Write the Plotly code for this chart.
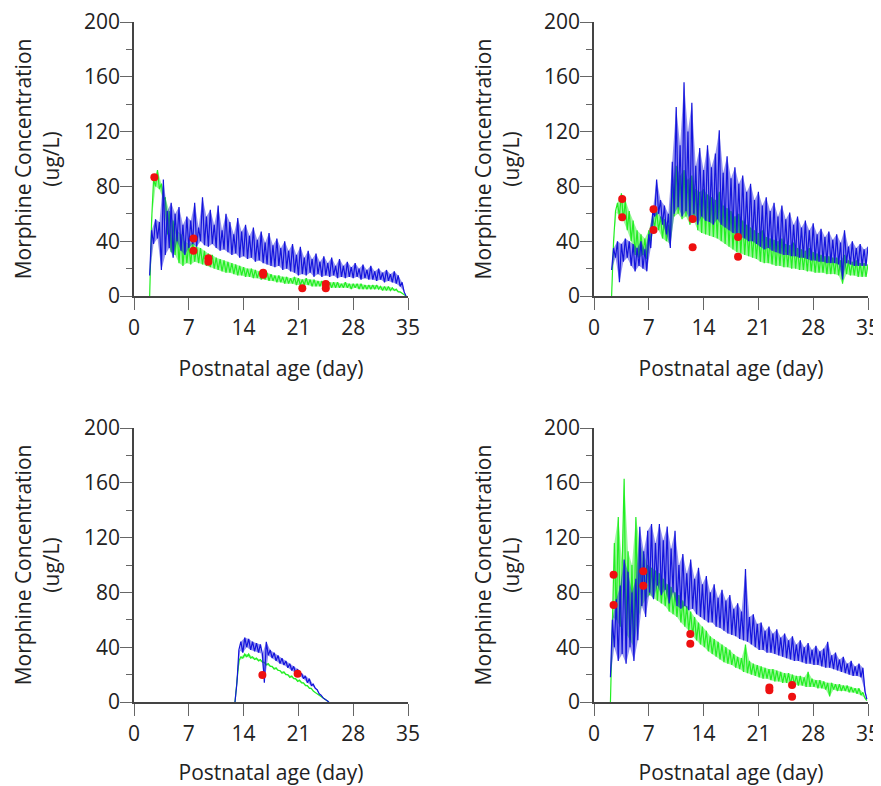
import plotly.graph_objects as go

STEP = 0.25  # sampling interval (day) of the simulated profiles

# ---------------- Panel 1 (top-left) ----------------
P1_BLUE_START = 2.0
P1_BLUE = [15, 48, 38, 56, 42, 54, 19, 85, 30, 62, 35, 68, 28, 60, 40, 65, 33, 52, 30, 58,
           35, 55, 38, 68, 36, 50, 40, 72, 37, 58, 36, 63, 38, 52, 35, 66, 33, 48, 34, 60,
           32, 54, 30, 45, 31, 57, 28, 47, 29, 52, 27, 44, 28, 50, 25, 41, 26, 47, 24, 39,
           23, 46, 22, 37, 21, 42, 22, 35, 19, 40, 20, 33, 18, 38, 17, 30, 15, 36, 16, 28,
           15, 33, 17, 27, 14, 31, 16, 25, 14, 29, 15, 24, 14, 28, 15, 22, 13, 27, 14, 22,
           13, 25, 14, 21, 13, 24, 14, 20, 12, 23, 13, 19, 12, 22, 12, 18, 11, 20, 12, 17,
           10, 19, 11, 16, 10, 18, 9, 15, 7, 10, 3, 0]
P1_GREEN_START = 2.0
P1_GREEN = [0, 55, 85, 80, 92, 78, 82, 70, 72, 45, 62, 32, 55, 30, 48, 24, 45, 22, 40, 24,
            38, 23, 40, 25, 36, 24, 35, 23, 33, 22, 31, 21, 30, 20, 28, 19, 27, 18, 26, 17,
            25, 17, 24, 16, 23, 15, 22, 15, 21, 14, 20, 14, 20, 13, 19, 13, 18, 12, 17, 12,
            17, 11, 16, 11, 15, 10, 15, 10, 14, 9, 14, 9, 13, 9, 14, 8, 13, 8, 12, 8,
            13, 8, 12, 7, 12, 7, 11, 7, 11, 7, 11, 6, 10, 6, 10, 6, 10, 6, 9, 6,
            10, 6, 9, 5, 9, 6, 9, 5, 9, 5, 8, 5, 8, 5, 8, 5, 8, 5, 7, 4,
            7, 4, 7, 4, 6, 4, 5, 3, 3, 2, 1, 0]
P1_OBS_DAY = [2.6, 7.6, 7.6, 9.5, 9.5, 16.5, 16.5, 21.5, 24.5, 24.5]
P1_OBS_CONC = [86.6, 42.0, 33.0, 27.5, 25.0, 17.0, 15.5, 5.6, 8.8, 5.6]

# ---------------- Panel 2 (top-right) ----------------
P2_BLUE_START = 2.25
P2_BLUE = [19, 35, 28, 40, 10, 38, 25, 42, 28, 40, 22, 38, 18, 35, 22, 40, 20, 34, 18, 45,
           35, 62, 58, 85, 60, 70, 52, 66, 45, 60, 35, 98, 60, 138, 65, 110, 58, 156, 62, 120,
           55, 141, 60, 95, 52, 108, 58, 92, 55, 110, 54, 94, 52, 104, 56, 121, 52, 90, 50, 102,
           48, 86, 46, 94, 45, 82, 43, 88, 42, 76, 40, 82, 40, 70, 38, 76, 36, 66, 34, 72,
           35, 62, 33, 68, 32, 58, 31, 66, 30, 56, 30, 61, 29, 52, 29, 58, 28, 50, 28, 55,
           27, 48, 26, 53, 26, 45, 25, 49, 25, 43, 24, 47, 24, 41, 24, 45, 23, 39, 12, 48,
           24, 36, 23, 40, 22, 35, 22, 38, 22, 34, 22, 36]
P2_GREEN_START = 2.25
P2_GREEN = [0, 40, 62, 68, 58, 75, 55, 70, 48, 62, 40, 55, 30, 48, 28, 45, 30, 42, 27, 48,
            40, 58, 50, 62, 48, 58, 42, 56, 40, 52, 38, 82, 58, 95, 60, 88, 56, 92, 58, 85,
            52, 88, 55, 78, 48, 76, 46, 78, 45, 74, 44, 72, 43, 70, 42, 76, 40, 66, 38, 64,
            36, 62, 34, 58, 32, 60, 31, 55, 30, 52, 29, 50, 28, 48, 27, 46, 25, 48, 24, 43,
            24, 42, 23, 41, 22, 40, 22, 42, 21, 38, 21, 37, 20, 39, 20, 35, 19, 34, 19, 33,
            18, 35, 18, 32, 17, 31, 17, 30, 17, 29, 16, 29, 16, 28, 16, 28, 15, 26, 9, 30,
            16, 26, 15, 25, 15, 26, 14, 24, 14, 24, 14, 23]
P2_OBS_DAY = [3.6, 3.6, 7.6, 7.6, 12.6, 12.6, 18.4, 18.4]
P2_OBS_CONC = [70.8, 57.4, 63.3, 48.2, 56.2, 35.5, 43.0, 28.7]

# ---------------- Panel 3 (bottom-left) ----------------
P3_BLUE_START = 12.9
P3_BLUE = [0, 14, 38, 44, 36, 47, 40, 46, 38, 44, 37, 43, 36, 42, 35, 14, 44, 34, 38, 32,
           36, 30, 34, 28, 32, 27, 30, 25, 28, 23, 26, 21, 24, 19, 21, 17, 19, 14, 17, 12,
           13, 10, 9, 6, 5, 3, 2, 1, 0]
P3_GREEN_START = 12.9
P3_GREEN = [0, 18, 30, 33, 32, 35, 33, 35, 32, 33, 31, 32, 30, 31, 29, 29, 27, 28, 26, 26,
            24, 25, 23, 23, 21, 22, 20, 20, 18, 19, 17, 17, 15, 16, 14, 14, 12, 12, 10, 10,
            8, 7, 6, 5, 4, 3, 2, 1, 0]
P3_OBS_DAY = [16.4, 20.9]
P3_OBS_CONC = [19.7, 20.7]

# ---------------- Panel 4 (bottom-right) ----------------
P4_BLUE_START = 2.1
P4_BLUE = [18, 60, 40, 75, 30, 85, 35, 104, 28, 95, 40, 80, 30, 90, 45, 128, 70, 110, 62, 125,
           80, 130, 75, 116, 85, 130, 78, 118, 82, 128, 72, 112, 80, 125, 70, 100, 68, 108, 70, 94,
           67, 104, 68, 90, 64, 98, 62, 86, 60, 92, 58, 80, 58, 86, 55, 76, 54, 82, 52, 74,
           50, 78, 49, 68, 48, 72, 46, 66, 45, 97, 44, 62, 42, 64, 40, 57, 38, 58, 38, 52,
           36, 55, 36, 50, 35, 53, 34, 47, 33, 50, 32, 45, 31, 48, 30, 42, 30, 45, 29, 40,
           28, 43, 28, 38, 27, 41, 27, 37, 26, 39, 25, 44, 25, 34, 24, 36, 23, 31, 22, 33,
           21, 28, 20, 30, 19, 26, 19, 28, 18, 25, 8, 2]
P4_GREEN_START = 2.1
P4_GREEN = [0, 62, 116, 60, 135, 55, 100, 163, 50, 110, 45, 100, 40, 135, 60, 116, 70, 108, 75, 100,
            78, 98, 76, 96, 74, 94, 72, 90, 70, 86, 66, 84, 64, 80, 62, 78, 58, 74, 55, 70,
            52, 66, 48, 62, 45, 58, 42, 55, 40, 52, 37, 48, 35, 46, 33, 44, 31, 42, 29, 40,
            28, 38, 27, 35, 25, 33, 24, 32, 22, 42, 21, 30, 20, 28, 19, 27, 18, 26, 17, 25,
            17, 24, 16, 24, 15, 23, 15, 22, 14, 21, 14, 21, 13, 20, 13, 19, 12, 19, 12, 18,
            11, 22, 11, 17, 11, 16, 10, 16, 10, 15, 9, 14, 4, 14, 9, 13, 8, 13, 8, 12,
            8, 12, 7, 11, 7, 10, 6, 10, 5, 7, 3, 1]
P4_OBS_DAY = [2.5, 2.5, 6.3, 6.3, 12.3, 12.3, 22.4, 22.4, 25.3, 25.3]
P4_OBS_CONC = [92.9, 70.8, 95.4, 84.9, 49.6, 42.6, 10.5, 8.6, 12.4, 3.9]

X_TICKS = [0, 7, 14, 21, 28, 35]
Y_TICKS = [0, 40, 80, 120, 160, 200]
X_TITLE = "Postnatal age (day)"
Y_TITLE = "Morphine Concentration<br>(ug/L)"

BLUE = "#1414dc"
BLUE_BAND = "rgba(20,20,220,0.45)"
GREEN = "#22ee22"
GREEN_BAND = "rgba(34,238,34,0.45)"
RED = "#ee1010"
FONT = "Open Sans"
FS = 21


def days(start, values):
    return [start + STEP * i for i in range(len(values))]


panels = [
    (P1_BLUE_START, P1_BLUE, P1_GREEN_START, P1_GREEN, P1_OBS_DAY, P1_OBS_CONC),
    (P2_BLUE_START, P2_BLUE, P2_GREEN_START, P2_GREEN, P2_OBS_DAY, P2_OBS_CONC),
    (P3_BLUE_START, P3_BLUE, P3_GREEN_START, P3_GREEN, P3_OBS_DAY, P3_OBS_CONC),
    (P4_BLUE_START, P4_BLUE, P4_GREEN_START, P4_GREEN, P4_OBS_DAY, P4_OBS_CONC),
]

PAGE_OFF = 8  # default body margin of the page
W, H = 881 - PAGE_OFF, 786 - PAGE_OFF
x_doms = [(134, 408), (594, 868), (134, 408), (594, 868)]
y_doms = [(22, 296), (22, 296), (428, 702), (428, 702)]

fig = go.Figure()
layout = dict(
    width=W, height=H,
    margin=dict(l=0, r=0, t=0, b=0),
    paper_bgcolor="white", plot_bgcolor="white",
    showlegend=False,
    font=dict(family=FONT, size=FS, color="#222"),
)


def add_profile(start, vals, line_col, band_col, xa, ya):
    t = days(start, vals)
    fig.add_trace(go.Scatter(x=t[0::2], y=vals[0::2], mode="lines",
                             line=dict(width=0, color=band_col), hoverinfo="skip",
                             xaxis=xa, yaxis=ya))
    fig.add_trace(go.Scatter(x=t[1::2], y=vals[1::2], mode="lines", fill="tonexty",
                             fillcolor=band_col, line=dict(width=0, color=band_col),
                             hoverinfo="skip", xaxis=xa, yaxis=ya))
    fig.add_trace(go.Scatter(x=t, y=vals, mode="lines",
                             line=dict(color=line_col, width=1.2), xaxis=xa, yaxis=ya))


for i, (bs, bv, gs, gv, od, oc) in enumerate(panels):
    n = "" if i == 0 else str(i + 1)
    xa, ya = "x" + n, "y" + n
    add_profile(gs, gv, GREEN, GREEN_BAND, xa, ya)
    add_profile(bs, bv, BLUE, BLUE_BAND, xa, ya)
    fig.add_trace(go.Scatter(x=od, y=oc, mode="markers",
                             marker=dict(color=RED, size=8), xaxis=xa, yaxis=ya))
    x0, x1 = [v - PAGE_OFF for v in x_doms[i]]
    y0, y1 = [v - PAGE_OFF for v in y_doms[i]]
    layout["xaxis" + n] = dict(
        domain=[x0 / W, x1 / W], anchor=ya, range=[0, 35],
        tickvals=X_TICKS, ticks="outside", ticklen=12, tickcolor="#666",
        ticklabeloverflow="allow",
        showline=True, linecolor="#444", linewidth=1.5,
        showgrid=False, zeroline=False, automargin=False,
        title=dict(text=X_TITLE, standoff=21, font=dict(size=FS)),
        tickfont=dict(size=FS),
    )
    layout["yaxis" + n] = dict(
        domain=[1 - y1 / H, 1 - y0 / H], anchor=xa, range=[0, 200],
        tickvals=Y_TICKS, ticks="outside", ticklen=12, tickcolor="#666",
        ticklabelstandoff=-4, ticklabeloverflow="allow",
        minor=dict(dtick=20, ticks="outside", ticklen=6, tickcolor="#666"),
        showline=True, linecolor="#444", linewidth=1.5,
        showgrid=False, zeroline=False, automargin=False,
        title=dict(text=Y_TITLE, standoff=19, font=dict(size=FS)),
        tickfont=dict(size=FS),
    )

fig.update_layout(**layout)
fig.write_html("out.html", config={"displayModeBar": False})
